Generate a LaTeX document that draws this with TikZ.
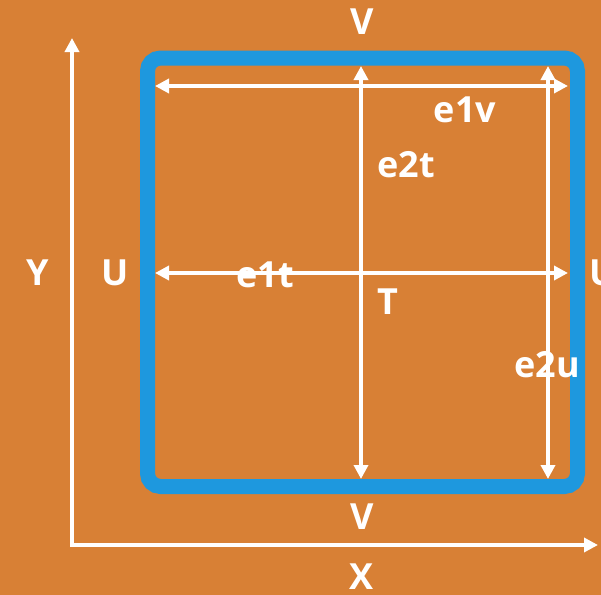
\documentclass[tikz,border=0pt]{standalone}
\usepackage{fontspec}
\setmainfont{Open Sans}
\usetikzlibrary{arrows.meta}
\definecolor{cellorange}{HTML}{D88035}
\definecolor{cellblue}{HTML}{1E98DE}

\begin{document}
\begin{tikzpicture}[
  x=0.5pt,y=-0.5pt,
  font=\bfseries\fontsize{18}{18}\selectfont,
  lbl/.style={text=white,inner sep=0pt,anchor=center},
  arr/.style={{Triangle[length=7pt,width=7pt]}-{Triangle[length=7pt,width=7pt]},white,line width=2pt},
  axis/.style={{Triangle[length=7pt,width=7pt]}-{Triangle[length=7pt,width=7pt]},white,line width=2pt}
]
\useasboundingbox (0,0) rectangle (601,595);
\fill[cellorange] (0,0) rectangle (601,595);
% cell boundary
\draw[cellblue,line width=7.5pt,rounded corners=6.5pt] (147.5,58) rectangle (577.5,486.5);
% end points of the vectors
\coordinate (tl) at (155,86);
\coordinate (tr) at (568,86);
\coordinate (ml) at (155,273);
\coordinate (mr) at (568,273);
\coordinate (ct) at (361,66);
\coordinate (cb) at (361,479);
\coordinate (rt) at (548,66);
\coordinate (rb) at (548,479);
\coordinate (ytop) at (72,38);
\coordinate (orig) at (72,545);
\coordinate (xend) at (598,545);
% axes
\draw[axis,line join=miter] (ytop) -- (orig) -- (xend);
% vectors
\draw[arr] (tl) -- (tr);
\draw[arr] (ml) -- (mr);
\draw[arr] (ct) -- (cb);
\draw[arr] (rt) -- (rb);
% labels
\node[lbl] (vtop) at (362,22) {V};
\node[lbl] (vbot) at (362,517) {V};
\node[lbl] (xlab) at (362,577) {X};
\node[lbl] (ylab) at (38,273) {Y};
\node[lbl] (uleft) at (115,273) {U};
\node[lbl] (uright) at (603,273) {U};
\node[lbl] (eonev) at (465,110) {e1v};
\node[lbl] (etwot) at (406,165) {e2t};
\node[lbl] (eonet) at (265,275) {e1t};
\node[lbl] (tlab) at (388,302) {T};
\node[lbl] (etwou) at (547,365) {e2u};
\end{tikzpicture}
\end{document}
